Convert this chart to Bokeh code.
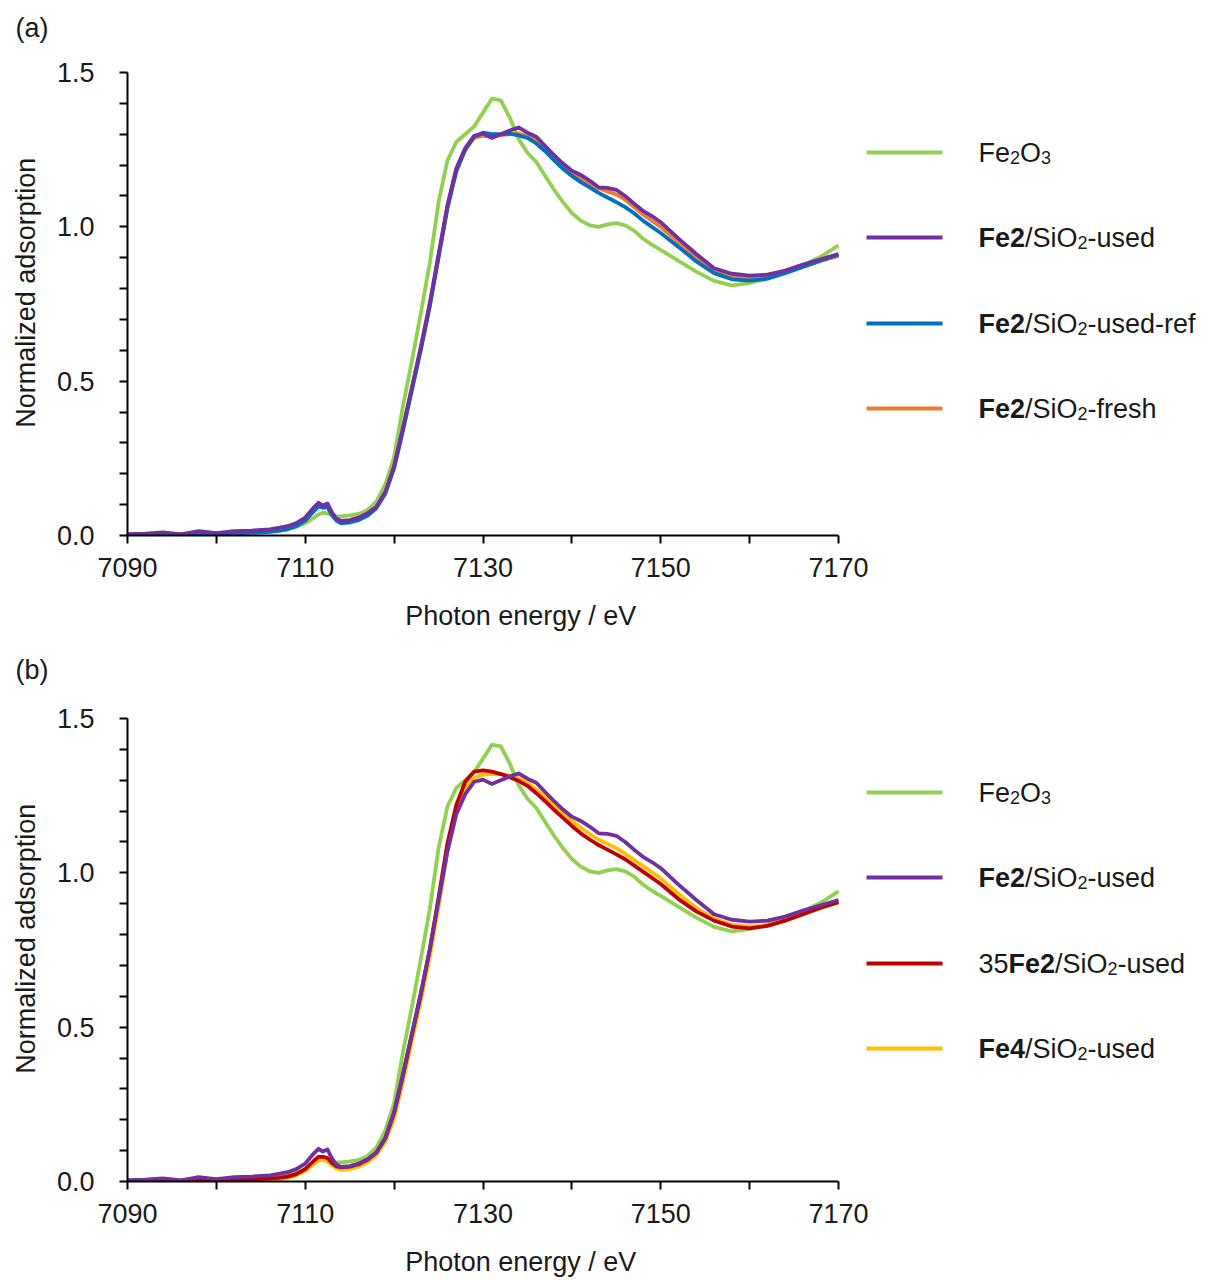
import numpy as np
from bokeh.plotting import figure
from bokeh.layouts import column
from bokeh.models import FixedTicker, ColumnDataSource, Range1d, PrintfTickFormatter
from bokeh.core.properties import value
from bokeh.embed import file_html
from bokeh.resources import INLINE

# ---------------- data ----------------
energy = [7090, 7092, 7094, 7096, 7098, 7100, 7102, 7104, 7106, 7107, 7108, 7109, 7110, 7111,
          7111.5, 7112, 7112.5, 7113, 7113.5, 7114, 7115, 7116, 7117, 7118, 7119, 7120, 7121,
          7122, 7123, 7124, 7125, 7126, 7127, 7128, 7129, 7130, 7131, 7132, 7133, 7134, 7135,
          7136, 7137, 7138, 7139, 7140, 7141, 7142, 7143, 7144, 7145, 7146, 7147, 7148, 7149,
          7150, 7152, 7154, 7156, 7158, 7160, 7162, 7164, 7166, 7168, 7170]

fe2o3 = [0.000, 0.002, 0.003, 0.004, 0.005, 0.006, 0.008, 0.010, 0.014, 0.017, 0.021, 0.028, 0.040, 0.058,
         0.068, 0.074, 0.072, 0.066, 0.062, 0.062, 0.065, 0.070, 0.082, 0.110, 0.165, 0.255, 0.420,
         0.565, 0.720, 0.880, 1.080, 1.215, 1.275, 1.300, 1.325, 1.370, 1.415, 1.410, 1.355, 1.285, 1.240,
         1.210, 1.165, 1.120, 1.080, 1.045, 1.020, 1.005, 1.000, 1.008, 1.012, 1.005, 0.988, 0.962, 0.942,
         0.925, 0.890, 0.855, 0.825, 0.810, 0.818, 0.833, 0.852, 0.875, 0.903, 0.940]

fe2_used = [0.004, 0.006, 0.010, 0.004, 0.014, 0.008, 0.014, 0.016, 0.020, 0.025, 0.030, 0.040, 0.058, 0.092,
            0.106, 0.097, 0.104, 0.075, 0.055, 0.047, 0.050, 0.058, 0.072, 0.093, 0.140, 0.225, 0.350,
            0.480, 0.610, 0.750, 0.910, 1.070, 1.190, 1.255, 1.295, 1.302, 1.288, 1.300, 1.312, 1.322, 1.305,
            1.292, 1.262, 1.232, 1.205, 1.182, 1.168, 1.150, 1.128, 1.126, 1.120, 1.100, 1.075, 1.052, 1.035,
            1.015, 0.962, 0.912, 0.866, 0.848, 0.842, 0.845, 0.858, 0.878, 0.895, 0.912]

fe2_used_ref = [0.000, 0.001, 0.002, 0.003, 0.004, 0.005, 0.007, 0.009, 0.012, 0.015, 0.020, 0.030, 0.048, 0.080,
                0.094, 0.090, 0.092, 0.066, 0.048, 0.040, 0.042, 0.050, 0.064, 0.088, 0.135, 0.218, 0.340,
                0.470, 0.600, 0.740, 0.900, 1.060, 1.180, 1.250, 1.292, 1.305, 1.300, 1.300, 1.302, 1.296, 1.288,
                1.270, 1.245, 1.215, 1.188, 1.165, 1.145, 1.128, 1.110, 1.095, 1.080, 1.064, 1.044, 1.020, 1.000,
                0.980, 0.935, 0.888, 0.850, 0.830, 0.826, 0.832, 0.850, 0.870, 0.890, 0.910]

fe2_fresh = [0.002, 0.003, 0.004, 0.005, 0.006, 0.007, 0.009, 0.011, 0.015, 0.018, 0.023, 0.033, 0.050, 0.082,
             0.095, 0.090, 0.093, 0.068, 0.052, 0.045, 0.048, 0.056, 0.070, 0.092, 0.140, 0.225, 0.348,
             0.478, 0.608, 0.748, 0.908, 1.066, 1.185, 1.250, 1.288, 1.295, 1.293, 1.297, 1.300, 1.302, 1.295,
             1.280, 1.252, 1.222, 1.196, 1.175, 1.158, 1.140, 1.125, 1.115, 1.105, 1.088, 1.064, 1.040, 1.020,
             1.000, 0.950, 0.900, 0.860, 0.840, 0.832, 0.837, 0.852, 0.872, 0.890, 0.906]

fe2_35_used = [0.000, 0.001, 0.002, 0.002, 0.003, 0.004, 0.005, 0.007, 0.010, 0.012, 0.016, 0.024, 0.040, 0.068,
               0.080, 0.080, 0.076, 0.060, 0.050, 0.046, 0.048, 0.056, 0.070, 0.094, 0.140, 0.222, 0.345,
               0.475, 0.605, 0.750, 0.920, 1.095, 1.220, 1.295, 1.328, 1.332, 1.328, 1.320, 1.310, 1.298, 1.282,
               1.258, 1.232, 1.204, 1.178, 1.152, 1.128, 1.108, 1.090, 1.075, 1.060, 1.044, 1.024, 1.004, 0.984,
               0.964, 0.915, 0.875, 0.845, 0.826, 0.820, 0.828, 0.845, 0.866, 0.887, 0.905]

fe4_used = [0.000, 0.000, 0.001, 0.001, 0.002, 0.002, 0.003, 0.004, 0.006, 0.008, 0.012, 0.020, 0.035, 0.058,
            0.068, 0.070, 0.066, 0.052, 0.042, 0.038, 0.040, 0.048, 0.062, 0.084, 0.128, 0.205, 0.325,
            0.455, 0.585, 0.725, 0.890, 1.070, 1.200, 1.275, 1.308, 1.318, 1.320, 1.320, 1.316, 1.306, 1.292,
            1.270, 1.246, 1.218, 1.192, 1.168, 1.146, 1.126, 1.108, 1.094, 1.080, 1.062, 1.042, 1.022, 1.002,
            0.982, 0.932, 0.886, 0.852, 0.832, 0.826, 0.830, 0.846, 0.866, 0.886, 0.904]

x_ticks = [7090, 7110, 7130, 7150, 7170]
x_minor = [7100, 7120, 7140, 7160]
y_ticks = [0.0, 0.5, 1.0, 1.5]
y_minor = [0.1, 0.2, 0.3, 0.4, 0.6, 0.7, 0.8, 0.9, 1.1, 1.2, 1.3, 1.4]

GREEN, PURPLE, BLUE, ORANGE, RED, YELLOW = "#92D050", "#7030A0", "#0070C0", "#ED7D31", "#C00000", "#FFC000"

# legend entries: list of (text, style) runs; style n=normal, b=bold, s=subscript
leg_fe2o3 = [("Fe", "n"), ("2", "s"), ("O", "n"), ("3", "s")]
leg_used = [("Fe2", "b"), ("/SiO", "n"), ("2", "s"), ("-used", "n")]
leg_ref = [("Fe2", "b"), ("/SiO", "n"), ("2", "s"), ("-used-ref", "n")]
leg_fresh = [("Fe2", "b"), ("/SiO", "n"), ("2", "s"), ("-fresh", "n")]
leg_35 = [("35", "n"), ("Fe2", "b"), ("/SiO", "n"), ("2", "s"), ("-used", "n")]
leg_fe4 = [("Fe4", "b"), ("/SiO", "n"), ("2", "s"), ("-used", "n")]

X_LABEL = "Photon energy / eV"
Y_LABEL = "Normalized adsorption"

# ---------------- layout constants ----------------
FONT = "Liberation Sans"
TXT = "#1a1a1a"
FS = 27
SUB_FS = 18
W = 1206
BORDER_L = 127
FRAME_W = W - BORDER_L
FRAME_H = 463
X0 = 7090.0
PX_PER_EV = 8.8875
X_END = X0 + FRAME_W / PX_PER_EV
PX_PER_Y = FRAME_H / 1.5
NBSP = "\u00a0"

REG = {"F": 611, "e": 556, "2": 556, "3": 556, "4": 556, "5": 556, "/": 278, "S": 667, "i": 222,
       "O": 778, "-": 333, "u": 556, "s": 500, "d": 556, "r": 333, "f": 278, "h": 556}
BOLD = {"F": 611, "e": 556, "2": 556, "4": 556}


def run_width(text, style):
    if style == "b":
        return sum(BOLD[c] for c in text) / 1000 * FS
    if style == "s":
        return sum(REG[c] for c in text) / 1000 * SUB_FS
    return sum(REG[c] for c in text) / 1000 * FS


def make_panel(tag, series, legend_entries, legend_px, height, top, tag_standoff):
    bottom = height - top - FRAME_H
    p = figure(width=W, height=height, output_backend="svg", toolbar_location=None,
               x_range=Range1d(X0, X_END), y_range=Range1d(0, 1.5),
               min_border_left=BORDER_L, min_border_right=0, min_border_top=top,
               min_border_bottom=bottom)
    p.outline_line_color = None
    p.grid.visible = False
    p.background_fill_color = "white"
    p.border_fill_color = "white"

    # panel tag as a left-aligned title pushed to the canvas' left edge
    p.title.text = tag + "\n" + NBSP
    p.title.align = "left"
    p.title.offset = -(BORDER_L - 15)
    p.title.standoff = tag_standoff
    p.title.text_font = FONT
    p.title.text_font_size = f"{FS}px"
    p.title.text_font_style = "normal"
    p.title.text_color = TXT

    for (vals, color) in series:
        p.line(energy, vals, line_color=color, line_width=3.8, line_join="round")

    for ax in (p.xaxis[0], p.yaxis[0]):
        ax.axis_line_color = "black"
        ax.axis_line_width = 2
        ax.major_tick_line_color = "black"
        ax.major_tick_line_width = 2
        ax.minor_tick_line_color = "black"
        ax.minor_tick_line_width = 2
        ax.major_tick_in = 0
        ax.major_tick_out = 8
        ax.minor_tick_in = 0
        ax.minor_tick_out = 8
        ax.major_label_text_font = FONT
        ax.major_label_text_font_size = f"{FS}px"
        ax.major_label_text_color = TXT
        ax.axis_label_text_font = FONT
        ax.axis_label_text_font_size = f"{FS}px"
        ax.axis_label_text_font_style = "normal"
        ax.axis_label_text_color = TXT

    p.xaxis[0].ticker = FixedTicker(ticks=x_ticks, minor_ticks=x_minor)
    p.xaxis[0].bounds = (x_ticks[0], x_ticks[-1])
    # trailing no-break spaces move the centred label left, under the bounded axis
    p.xaxis[0].axis_label = X_LABEL + NBSP * 39
    p.xaxis[0].major_label_standoff = 14
    p.xaxis[0].axis_label_standoff = 21

    p.yaxis[0].ticker = FixedTicker(ticks=y_ticks, minor_ticks=y_minor)
    p.yaxis[0].formatter = PrintfTickFormatter(format="%.1f")
    p.yaxis[0].axis_label = NBSP * 3 + Y_LABEL
    p.yaxis[0].major_label_standoff = 25
    p.yaxis[0].axis_label_standoff = 13

    # legend (drawn inside the extended frame, right of the bounded x axis)
    lx0 = X0 + (866 - BORDER_L) / PX_PER_EV
    lx1 = X0 + (942 - BORDER_L) / PX_PER_EV
    tx0 = X0 + (978 - BORDER_L) / PX_PER_EV
    runs = {"n": dict(x=[], y=[], t=[]), "b": dict(x=[], y=[], t=[]), "s": dict(x=[], y=[], t=[])}
    for (entry, color), lpx in zip(legend_entries, legend_px):
        ly = lpx / PX_PER_Y
        p.line([lx0, lx1], [ly, ly], line_color=color, line_width=3.8)
        base = ly
        cx = tx0
        for text, style in entry:
            runs[style]["x"].append(cx)
            runs[style]["y"].append(base - (5 / PX_PER_Y if style == "s" else 0))
            runs[style]["t"].append(text)
            cx += run_width(text, style) / PX_PER_EV
    for style, d in runs.items():
        src = ColumnDataSource(d)
        p.text(x="x", y="y", text="t", source=src, text_font=value(FONT),
               text_font_size=value(f"{SUB_FS if style == 's' else FS}px"),
               text_font_style=value("bold" if style == "b" else "normal"),
               text_color=TXT, text_baseline="alphabetic", text_align="left")
    return p


# legend rows: pixel height above the frame bottom
legend_px_a = [535 - y for y in (152, 237, 323, 408)]
legend_px_b = [1181 - y for y in (792, 877, 963, 1048)]

pa = make_panel("(a)",
                [(fe2o3, GREEN), (fe2_fresh, ORANGE), (fe2_used_ref, BLUE), (fe2_used, PURPLE)],
                [(leg_fe2o3, GREEN), (leg_used, PURPLE), (leg_ref, BLUE), (leg_fresh, ORANGE)],
                legend_px_a, height=648, top=72, tag_standoff=0)
pb = make_panel("(b)",
                [(fe2o3, GREEN), (fe4_used, YELLOW), (fe2_35_used, RED), (fe2_used, PURPLE)],
                [(leg_fe2o3, GREEN), (leg_used, PURPLE), (leg_35, RED), (leg_fe4, YELLOW)],
                legend_px_b, height=632, top=70, tag_standoff=8)

layout = column(pa, pb)
open("out.html", "w").write(file_html(layout, INLINE))
